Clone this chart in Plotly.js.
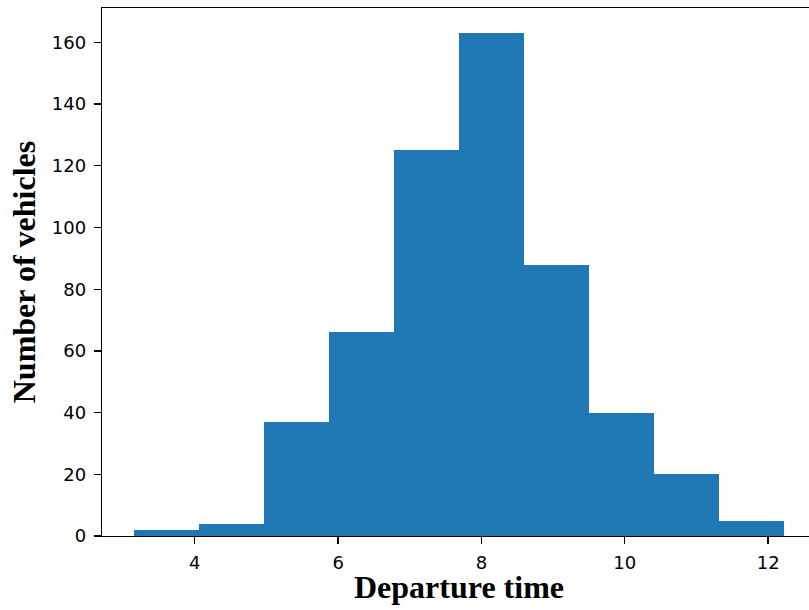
<!DOCTYPE html>
<html>
<head>
<meta charset="utf-8">
<script src="https://cdn.plot.ly/plotly-3.0.1.min.js"></script>
<style>
html, body { margin: 0; padding: 0; overflow: hidden; background: #fff; }
#chart { width: 830px; height: 610px; }
</style>
</head>
<body>
<div id="chart"></div>
<script>
// Histogram bin edges (departure time) and counts per bin
const binEdges = [3.158, 4.064, 4.969, 5.875, 6.781, 7.687, 8.592, 9.498, 10.404, 11.309, 12.215];
const counts = [2, 4, 37, 66, 125, 163, 88, 40, 20, 5];
const xTitle = 'Departure time';
const yTitle = 'Number of vehicles';

const centers = counts.map((_, i) => (binEdges[i] + binEdges[i + 1]) / 2);
const widths = counts.map((_, i) => binEdges[i + 1] - binEdges[i]);

const lo = binEdges[0], hi = binEdges[binEdges.length - 1];
const pad = (hi - lo) * 0.05;
const ymax = Math.max(...counts) * 1.05;

const trace = {
  type: 'bar',
  x: centers,
  y: counts,
  width: widths,
  marker: { color: '#1f77b4', line: { width: 0 } },
  hoverinfo: 'x+y'
};

const tickFont = { family: 'DejaVu Sans', size: 18, color: '#000' };
const titleFont = { family: 'Liberation Serif', size: 32, color: '#000', weight: 'bold' };

const layout = {
  width: 830,
  height: 610,
  margin: { l: 102, r: 14, t: 8, b: 74 },
  paper_bgcolor: '#fff',
  plot_bgcolor: '#fff',
  showlegend: false,
  bargap: 0,
  xaxis: {
    range: [lo - pad, hi + pad],
    tick0: 0, dtick: 2,
    showgrid: false, zeroline: false,
    showline: true, linecolor: '#000', linewidth: 1.3, mirror: true,
    ticks: 'outside', ticklen: 7, tickwidth: 1.3, tickcolor: '#000',
    ticklabelstandoff: 3,
    tickfont: tickFont,
    automargin: false
  },
  yaxis: {
    range: [0, ymax],
    tick0: 0, dtick: 20,
    showgrid: false, zeroline: false,
    showline: true, linecolor: '#000', linewidth: 1.3, mirror: true,
    ticks: 'outside', ticklen: 7, tickwidth: 1.3, tickcolor: '#000',
    ticklabelstandoff: 4,
    tickfont: tickFont,
    title: { text: '<b>' + yTitle + '</b>', font: titleFont, standoff: 6 },
    automargin: false
  },
  annotations: [{
    text: '<b>' + xTitle + '</b>',
    font: titleFont,
    xref: 'paper', yref: 'paper',
    x: 0.5, y: 0,
    xanchor: 'center', yanchor: 'middle',
    yshift: -51,
    showarrow: false
  }]
};

Plotly.newPlot('chart', [trace], layout, { displayModeBar: false, staticPlot: true });
</script>
</body>
</html>
